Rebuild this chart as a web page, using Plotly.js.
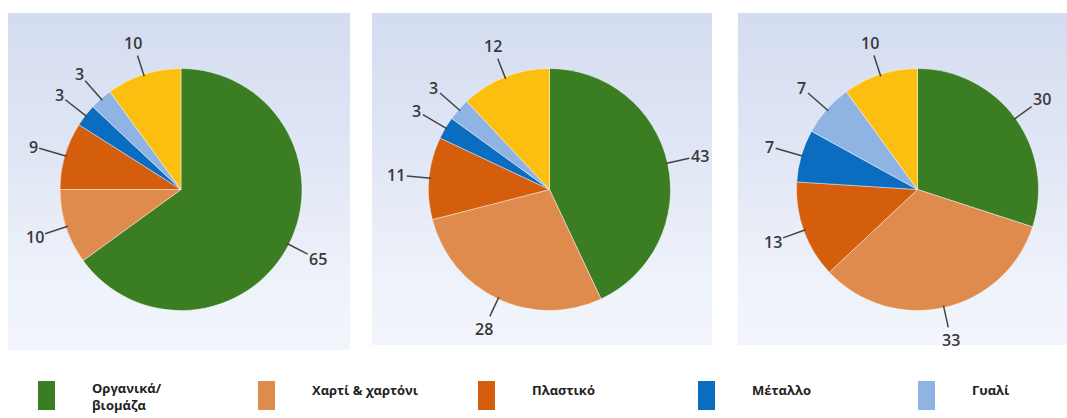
<!DOCTYPE html>
<html><head><meta charset="utf-8">
<script src="https://cdn.plot.ly/plotly-3.0.1.min.js"></script>
<style>
html,body{margin:0;padding:0;background:#fff;}
#wrap{position:relative;width:1067px;height:418px;overflow:hidden;background:#fff;}
.panel{position:absolute;background:linear-gradient(to bottom,#d3dcf0 0%,#e1e7f5 45%,#eef2fa 80%,#f2f5fb 100%);}
#chart{position:absolute;left:0;top:0;width:1067px;height:418px;}
</style></head><body>
<div id="wrap">
<div class="panel" style="left:8px;top:13px;width:342px;height:337px"></div>
<div class="panel" style="left:372px;top:13px;width:340px;height:332px"></div>
<div class="panel" style="left:738px;top:13px;width:329px;height:332px"></div>
<div id="chart"></div>
</div>
<script>
// ---- data ----
const categories = ['Οργανικά/ βιομάζα', 'Χαρτί & χαρτόνι', 'Πλαστικό', 'Μέταλλο', 'Γυαλί', 'Λοιπά'];
const legendLabels = ['Οργανικά/<br>βιομάζα', 'Χαρτί & χαρτόνι', 'Πλαστικό', 'Μέταλλο', 'Γυαλί'];
const valuesPie1 = [65, 10, 9, 3, 3, 10];
const valuesPie2 = [43, 28, 11, 3, 3, 12];
const valuesPie3 = [30, 33, 13, 7, 7, 10];
const sliceColors = ['#3b7d23', '#df8b4e', '#d45e0c', '#0b6dbf', '#8fb3e2', '#fdbf0f'];

// ---- layout geometry ----
const W = 1067, H = 418;
const pies = [
  {values: valuesPie1, cx: 181, cy: 189.5, r: 121},
  {values: valuesPie2, cx: 549.5, cy: 189.5, r: 121},
  {values: valuesPie3, cx: 917.5, cy: 189.5, r: 121}
];
const labelDist = 35;

const traces = [];
const annotations = [];
pies.forEach((p, i) => {
  traces.push({
    type: 'pie',
    labels: categories,
    values: p.values,
    sort: false,
    direction: 'clockwise',
    rotation: 0,
    textinfo: 'none',
    showlegend: false,
    marker: {colors: sliceColors, line: {color: 'rgba(255,255,255,0.55)', width: 0.8}},
    domain: {
      x: [(p.cx - p.r) / W, (p.cx + p.r) / W],
      y: [1 - (p.cy + p.r) / H, 1 - (p.cy - p.r) / H]
    },
    hoverinfo: 'label+value'
  });
  const total = p.values.reduce((a, b) => a + b, 0);
  let cum = 0;
  p.values.forEach(v => {
    const mid = (cum + v / 2) / total;
    cum += v;
    const th = 2 * Math.PI * mid;
    const ex = p.cx + (p.r - 2) * Math.sin(th);
    const ey = p.cy - (p.r - 2) * Math.cos(th);
    annotations.push({
      xref: 'paper', yref: 'paper',
      x: ex / W, y: 1 - ey / H,
      ax: labelDist * Math.sin(th), ay: -labelDist * Math.cos(th),
      text: String(v),
      showarrow: true, arrowhead: 0, arrowwidth: 1.5, arrowcolor: '#444',
      standoff: 0, startstandoff: 0,
      font: {family: 'Open Sans, sans-serif', size: 16, color: '#383838', weight: 600}
    });
  });
});

// ---- manual legend (the yellow slice has no legend entry) ----
const shapes = [];
const legX0 = 38, legStep = 220, sqW = 17, sqTop = 381, sqH = 29, textGap = 52;
legendLabels.forEach((lab, k) => {
  const x0 = legX0 + k * legStep;
  shapes.push({
    type: 'rect', xref: 'paper', yref: 'paper',
    x0: x0 / W, x1: (x0 + sqW) / W,
    y0: 1 - (sqTop + sqH) / H, y1: 1 - sqTop / H,
    fillcolor: sliceColors[k], line: {width: 0}
  });
  annotations.push({
    xref: 'paper', yref: 'paper',
    x: (x0 + textGap) / W, y: 1 - (sqTop + (k === 0 ? 15 : 9)) / H,
    xanchor: 'left', yanchor: 'middle', align: 'left',
    text: lab, showarrow: false,
    font: {family: 'Open Sans, sans-serif', size: 13, color: '#222', weight: 'bold'}
  });
});

const layout = {
  width: W, height: H,
  margin: {l: 0, r: 0, t: 0, b: 0},
  paper_bgcolor: 'rgba(0,0,0,0)',
  plot_bgcolor: 'rgba(0,0,0,0)',
  showlegend: false,
  annotations: annotations,
  shapes: shapes
};
Plotly.newPlot('chart', traces, layout, {displayModeBar: false, staticPlot: true});
</script>
</body></html>
